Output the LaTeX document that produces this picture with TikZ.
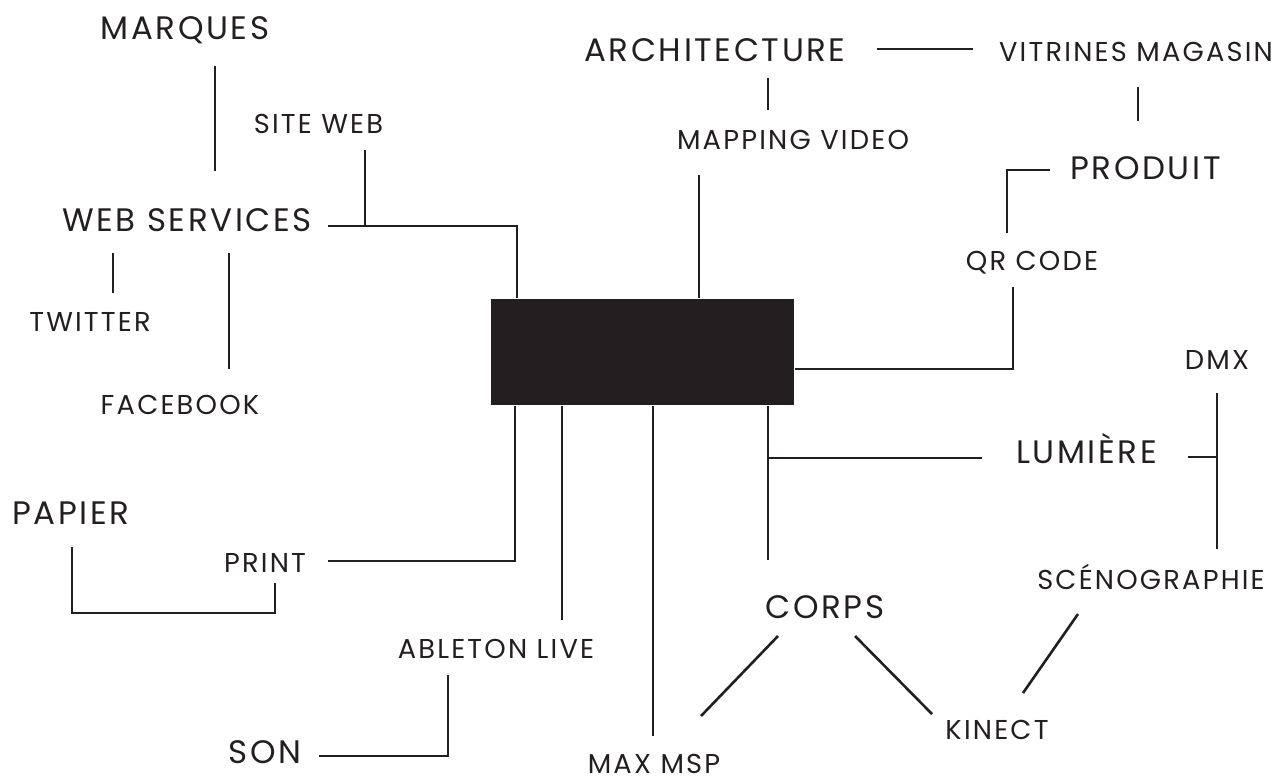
\documentclass[tikz,border=0pt]{standalone}
\usepackage{fontspec}
\setmainfont{Poppins}[LetterSpace=8]
\definecolor{ink}{HTML}{231F20}

\tikzset{
  bigword/.style={inner sep=0pt, anchor=base, text=ink, font=\fontsize{32.5}{32.5}\selectfont},
  smallword/.style={inner sep=0pt, anchor=base, text=ink, font=\fontsize{27.3}{27.3}\selectfont},
  core/.style={fill=ink, minimum width=303pt, minimum height=106pt, inner sep=0pt},
}

\begin{document}
\begin{tikzpicture}[x=1pt, y=-1pt, line width=2.6pt, color=ink]

  %% ==== centre block ====
  \node[core] (core) at (642.5,352) {};

  %% ==== labels (anchor = baseline) ====
  \node[bigword]   (marques)  at (185,39)     {MARQUES};
  \node[bigword]   (websvc)   at (187,231)    {WEB SERVICES};
  \node[smallword] (siteweb)  at (318.5,133)  {SITE WEB};
  \node[smallword] (twitter)  at (90,331)     {TWITTER};
  \node[smallword] (facebook) at (180,414)    {FACEBOOK};
  \node[bigword]   (archi)    at (715,61)     {ARCHITECTURE};
  \node[smallword] (mapping)  at (793,149)    {MAPPING VIDEO};
  \node[smallword] (vitrines) at (1136,61)    {VITRINES MAGASIN};
  \node[bigword]   (produit)  at (1145.5,179) {PRODUIT};
  \node[smallword] (qrcode)   at (1032,270)   {QR CODE};
  \node[smallword] (dmx)      at (1217,369)   {DMX};
  \node[bigword]   (lumiere)  at (1086.5,463) {LUMIÈRE};
  \node[smallword] (sceno)    at (1151,589)   {SCÉNOGRAPHIE};
  \node[bigword]   (corps)    at (825,618)    {CORPS};
  \node[smallword] (kinect)   at (997,739)    {KINECT};
  \node[smallword] (maxmsp)   at (654,773)    {MAX MSP};
  \node[smallword] (ableton)  at (496,658)    {ABLETON LIVE};
  \node[bigword]   (son)      at (265,763)    {SON};
  \node[smallword] (print)    at (265,572)    {PRINT};
  \node[bigword]   (papier)   at (71,524.5)   {PAPIER};

  %% ==== free ends of the connectors ====
  \coordinate (mq-s) at (215,66);    \coordinate (ws-n) at (215,171);
  \coordinate (ws-r) at (328,226);   \coordinate (ws-j) at (517,226);
  \coordinate (sw-s) at (365,150);   \coordinate (sw-j) at (365,226);
  \coordinate (tw-a) at (113,253);   \coordinate (tw-b) at (113,293);
  \coordinate (fb-a) at (229,253);   \coordinate (fb-b) at (229,369);
  \coordinate (ar-s) at (768,78);    \coordinate (mv-n) at (768,110);
  \coordinate (mv-s) at (699,175);
  \coordinate (ar-e) at (877,49);    \coordinate (vt-w) at (973,49);
  \coordinate (vt-s) at (1138,87);   \coordinate (pr-n) at (1138,121);
  \coordinate (pr-w) at (1050,170);  \coordinate (qr-n) at (1007,233);
  \coordinate (qr-s) at (1013,287);  \coordinate (qr-j) at (1013,369);
  \coordinate (dm-s) at (1217,393);  \coordinate (sc-n) at (1217,549);
  \coordinate (lu-e) at (1188,457);  \coordinate (lu-j) at (1217,457);
  \coordinate (lu-w) at (982,458);
  \coordinate (co-n) at (768,560);
  \coordinate (mx-n) at (653,736);
  \coordinate (ab-n) at (562,620);
  \coordinate (pt-j) at (515,561);   \coordinate (pt-e) at (328,561);
  \coordinate (pa-s) at (72,547);    \coordinate (pt-s) at (275,583);
  \coordinate (ab-s) at (448,675);   \coordinate (sn-e) at (319,756);
  \coordinate (co-sw) at (778,636);  \coordinate (mx-ne) at (701,716);
  \coordinate (co-se) at (855,636);  \coordinate (ki-nw) at (932,714);
  \coordinate (ki-ne) at (1023,693); \coordinate (sc-sw) at (1078,614);

  %% ==== connectors ====
  \draw (mq-s) -- (ws-n);
  \draw (ws-r) -- (ws-j) -- (core.north -| ws-j);
  \draw (sw-s) -- (sw-j);
  \draw (tw-a) -- (tw-b);
  \draw (fb-a) -- (fb-b);
  \draw (ar-s) -- (mv-n);
  \draw (mv-s) -- (core.north -| mv-s);
  \draw (ar-e) -- (vt-w);
  \draw (vt-s) -- (pr-n);
  \draw (pr-w) -| (qr-n);
  \draw (qr-s) -- (qr-j) -- (core.east |- qr-j);
  \draw (dm-s) -- (sc-n);
  \draw (lu-e) -- (lu-j);
  \draw (core.south -| co-n) -- (co-n);
  \draw (lu-w) -- (lu-w -| co-n);
  \draw (core.south -| mx-n) -- (mx-n);
  \draw (core.south -| ab-n) -- (ab-n);
  \draw (core.south -| pt-j) -- (pt-j) -- (pt-e);
  \draw (pa-s) -- ++(0,66) -| (pt-s);
  \draw (ab-s) |- (sn-e);
  \draw (co-sw) -- (mx-ne);
  \draw (co-se) -- (ki-nw);
  \draw (ki-ne) -- (sc-sw);

  % fix the canvas to the reference size
  \pgfresetboundingbox
  \path[use as bounding box] (0,0) rectangle (1274,782);
\end{tikzpicture}
\end{document}
